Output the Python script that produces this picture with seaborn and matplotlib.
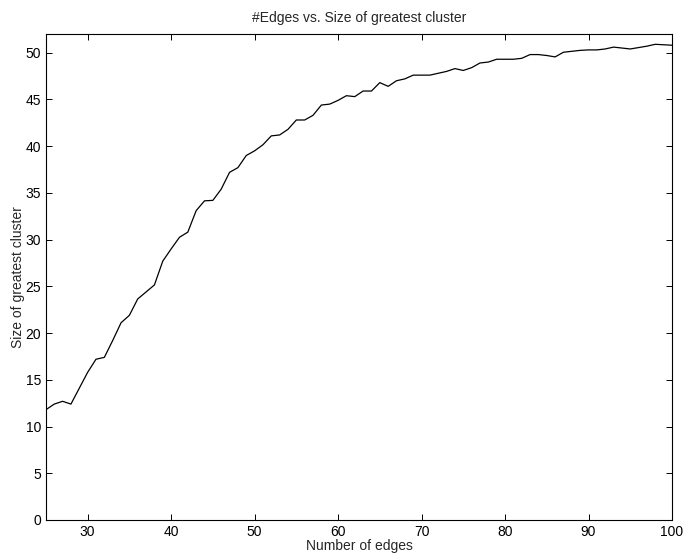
import numpy as np
import pandas as pd
import matplotlib
matplotlib.use("Agg")
import matplotlib.pyplot as plt
import seaborn as sns

edges = list(range(25, 101))
cluster_size = [
    11.8, 12.4, 12.7, 12.4, 14.1, 15.8, 17.2, 17.4, 19.2, 21.1,
    21.9, 23.65, 24.4, 25.15, 27.7, 29.0, 30.25, 30.8, 33.1, 34.15,
    34.2, 35.4, 37.2, 37.7, 39.0, 39.5, 40.15, 41.1, 41.2, 41.8,
    42.8, 42.8, 43.3, 44.4, 44.5, 44.9, 45.4, 45.3, 45.9, 45.9,
    46.8, 46.4, 47.0, 47.2, 47.6, 47.6, 47.6, 47.8, 48.0, 48.3,
    48.1, 48.4, 48.9, 49.0, 49.3, 49.3, 49.3, 49.4, 49.8, 49.8,
    49.7, 49.55, 50.05, 50.15, 50.25, 50.3, 50.3, 50.4, 50.6, 50.5,
    50.4, 50.55, 50.7, 50.9, 50.85, 50.8,
]
x_ticks = list(range(30, 101, 10))
y_ticks = list(range(0, 51, 5))

sns.set_style("white")
plt.rcParams['font.family'] = ['Liberation Sans', 'DejaVu Sans']

df = pd.DataFrame({"edges": edges, "size": cluster_size})

fig = plt.figure(figsize=(6.85, 5.54), dpi=100)
ax = fig.add_axes([0.067, 0.0614, 0.914, 0.8772])
sns.lineplot(data=df, x="edges", y="size", color="black", linewidth=0.9, ax=ax)

ax.set_xlim(25, 100)
ax.set_ylim(0, 52)
ax.set_xticks(x_ticks)
ax.set_yticks(y_ticks)
ax.tick_params(direction="in", length=4, width=0.7, labelsize=10, pad=3.5,
               top=True, right=True, bottom=True, left=True, colors="black")
for s in ax.spines.values():
    s.set_visible(True)
    s.set_color("black")
    s.set_linewidth(0.8)

ax.set_title("#Edges vs. Size of greatest cluster", fontsize=10, pad=9)
ax.set_xlabel("Number of edges", fontsize=10, labelpad=0)
ax.set_ylabel("Size of greatest cluster", fontsize=10, labelpad=0)

fig.savefig("out.png", dpi=100)
